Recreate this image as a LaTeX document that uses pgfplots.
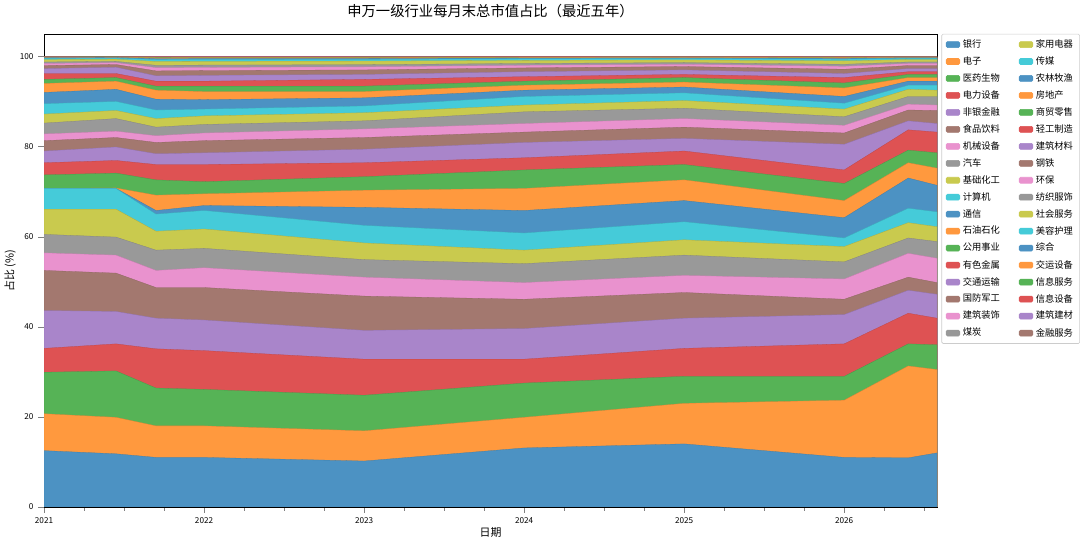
\documentclass[border=0pt]{standalone}
\usepackage{pgfplots}
\pgfplotsset{compat=1.18}
\usepackage{pgfplotstable}
\usepackage{fontspec}
\setmainfont{Noto Sans CJK SC}
\definecolor{tA}{HTML}{1F77B4}\colorlet{t0}{tA!80!white}
\definecolor{tB}{HTML}{FF7F0E}\colorlet{t1}{tB!80!white}
\definecolor{tC}{HTML}{2CA02C}\colorlet{t2}{tC!80!white}
\definecolor{tD}{HTML}{D62728}\colorlet{t3}{tD!80!white}
\definecolor{tE}{HTML}{9467BD}\colorlet{t4}{tE!80!white}
\definecolor{tF}{HTML}{8C564B}\colorlet{t5}{tF!80!white}
\definecolor{tG}{HTML}{E377C2}\colorlet{t6}{tG!80!white}
\definecolor{tH}{HTML}{7F7F7F}\colorlet{t7}{tH!80!white}
\definecolor{tI}{HTML}{BCBD22}\colorlet{t8}{tI!80!white}
\definecolor{tJ}{HTML}{17BECF}\colorlet{t9}{tJ!80!white}
\pgfplotstableread{
t c1 c2 c3 c4 c5 c6 c7 c8 c9 c10 c11 c12 c13 c14 c15 c16 c17 c18 c19 c20 c21 c22 c23 c24 c25 c26 c27 c28 c29 c30 c31 c32 c33 c34 c35 c36
2021.0  12.5 20.7 29.9 35.2 43.6 52.5 56.4 60.5 66.1 70.7 70.7 70.7 73.7 76.4 79.0 81.3 82.8 85.2 87.2 89.5 92.0 94.0 94.9 96.2 97.3 97.97 98.43 98.76 99.30 99.57 99.70 99.81 99.89 99.95 99.98 100
2021.45 11.8 19.9 30.2 36.2 43.4 51.9 55.9 59.9 66.1 70.7 70.7 70.8 74.1 76.9 79.9 82.0 83.4 86.2 88.0 90.0 92.7 94.5 95.3 96.2 97.6 98.20 98.61 98.90 99.38 99.62 99.74 99.83 99.90 99.95 99.98 100
2021.7  11.0 18.0 26.4 35.1 41.9 48.7 52.5 57.0 61.2 65.0 65.8 69.2 72.6 76.0 78.4 80.9 82.4 84.3 86.2 88.1 90.5 92.5 93.4 94.5 95.7 96.78 97.51 98.02 98.88 99.31 99.53 99.70 99.83 99.91 99.96 100
2022.0  11.0 18.0 26.1 34.7 41.5 48.7 53.1 57.4 61.7 65.8 66.9 69.5 72.2 76.0 78.6 81.3 83.0 84.9 86.8 88.3 90.4 92.2 93.4 94.5 95.8 96.85 97.56 98.07 98.91 99.33 99.54 99.71 99.83 99.92 99.96 100
2023.0  10.2 16.9 24.8 32.8 39.2 46.8 51.0 54.9 58.6 62.5 66.5 70.3 73.3 76.4 79.4 82.0 83.9 85.7 87.5 89.0 90.8 92.2 93.4 94.9 96.0 97.00 97.68 98.16 98.96 99.36 99.56 99.72 99.84 99.92 99.96 100
2024.0  13.1 19.9 27.5 32.8 39.6 46.1 49.8 54.0 57.0 60.8 65.8 70.7 74.8 77.5 80.9 83.2 85.1 87.7 89.2 91.1 92.5 93.6 94.5 95.5 96.6 97.45 98.03 98.44 99.12 99.46 99.63 99.76 99.86 99.93 99.97 100
2025.0  14.0 23.0 29.0 35.2 41.9 47.6 51.4 55.9 59.3 63.3 68.0 72.6 76.0 79.0 81.8 84.3 86.2 88.5 90.2 91.9 93.2 94.3 95.3 96.0 97.0 97.75 98.26 98.62 99.22 99.52 99.67 99.79 99.88 99.94 99.97 100
2026.0  11.0 23.7 29.0 36.2 42.7 46.1 50.6 54.4 57.8 59.7 64.2 68.0 71.8 74.8 80.5 83.0 84.7 86.6 88.3 89.6 91.1 93.0 94.1 95.3 96.2 97.15 97.80 98.25 99.01 99.39 99.58 99.73 99.85 99.92 99.96 100
2026.4  10.9 31.3 36.2 43.0 48.1 51.0 56.3 59.7 63.1 66.3 73.0 76.4 79.2 83.7 85.7 88.1 89.4 91.1 92.7 93.6 94.5 95.3 96.0 96.6 97.3 97.97 98.43 98.76 99.30 99.57 99.70 99.81 99.89 99.95 99.98 100
2026.58 12.0 30.5 36.0 41.9 47.2 49.8 55.2 58.9 62.2 65.5 71.4 75.2 78.6 83.2 85.1 88.0 89.2 91.1 92.5 93.6 94.5 95.3 96.0 96.6 97.3 97.97 98.43 98.76 99.30 99.57 99.70 99.81 99.89 99.95 99.98 100
}\data
\newcommand\lay[2]{\addplot[fill=#2,draw=#2!85!black,line width=0.2pt,forget plot] table[x=t,y=c#1]{\data} \closedcycle;}
\newcommand\leg[2]{\addlegendimage{legend image code/.code={\fill[#1] (0pt,-2.2pt) rectangle (10pt,2.2pt);}}\addlegendentry{#2}}
\begin{document}
\begin{tikzpicture}
\begin{axis}[
  scale only axis, width=655pt, height=347pt,
  xmin=2021, xmax=2026.58, ymin=0, ymax=105,
  xtick={2021,2022,2023,2024,2025,2026},
  xticklabels={2021,2022,2023,2024,2025,2026},
  minor xtick={2021.25,2021.5,2021.75,2022.25,2022.5,2022.75,2023.25,2023.5,2023.75,2024.25,2024.5,2024.75,2025.25,2025.5,2025.75,2026.25,2026.5},
  ytick={0,20,40,60,80,100},
  tick label style={font=\fontsize{6}{7}\selectfont},
  /pgf/number format/assume math mode=true,
  tick align=outside, tick pos=left,
  xlabel={日期}, ylabel={占比 (\%)},
  label style={font=\fontsize{8}{9}\selectfont},
  xlabel style={yshift=4pt}, ylabel style={yshift=-4pt},
  title={申万一级行业每月末总市值占比（最近五年）},
  title style={font=\fontsize{10.5}{12}\selectfont, yshift=2pt},
  legend columns=2,
  legend cell align=left,
  legend style={at={(1.005,1)}, anchor=north west, font=\fontsize{6.8}{8}\selectfont,
    draw=black!20, rounded corners=1pt, row sep=1.2pt, /tikz/every even column/.append style={column sep=12pt}},
]
\lay{36}{t5}\lay{35}{t4}\lay{34}{t3}\lay{33}{t2}\lay{32}{t1}\lay{31}{t0}
\lay{30}{t9}\lay{29}{t8}\lay{28}{t7}\lay{27}{t6}\lay{26}{t5}\lay{25}{t4}\lay{24}{t3}\lay{23}{t2}\lay{22}{t1}\lay{21}{t0}
\lay{20}{t9}\lay{19}{t8}\lay{18}{t7}\lay{17}{t6}\lay{16}{t5}\lay{15}{t4}\lay{14}{t3}\lay{13}{t2}\lay{12}{t1}\lay{11}{t0}
\lay{10}{t9}\lay{9}{t8}\lay{8}{t7}\lay{7}{t6}\lay{6}{t5}\lay{5}{t4}\lay{4}{t3}\lay{3}{t2}\lay{2}{t1}\lay{1}{t0}
\leg{t0}{银行}\leg{t8}{家用电器}
\leg{t1}{电子}\leg{t9}{传媒}
\leg{t2}{医药生物}\leg{t0}{农林牧渔}
\leg{t3}{电力设备}\leg{t1}{房地产}
\leg{t4}{非银金融}\leg{t2}{商贸零售}
\leg{t5}{食品饮料}\leg{t3}{轻工制造}
\leg{t6}{机械设备}\leg{t4}{建筑材料}
\leg{t7}{汽车}\leg{t5}{钢铁}
\leg{t8}{基础化工}\leg{t6}{环保}
\leg{t9}{计算机}\leg{t7}{纺织服饰}
\leg{t0}{通信}\leg{t8}{社会服务}
\leg{t1}{石油石化}\leg{t9}{美容护理}
\leg{t2}{公用事业}\leg{t0}{综合}
\leg{t3}{有色金属}\leg{t1}{交运设备}
\leg{t4}{交通运输}\leg{t2}{信息服务}
\leg{t5}{国防军工}\leg{t3}{信息设备}
\leg{t6}{建筑装饰}\leg{t4}{建筑建材}
\leg{t7}{煤炭}\leg{t5}{金融服务}
\end{axis}
\end{tikzpicture}
\end{document}
